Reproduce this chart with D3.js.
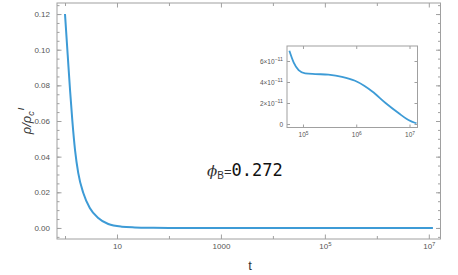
<!DOCTYPE html>
<html>
<head>
<meta charset="utf-8">
<script src="https://cdn.jsdelivr.net/npm/d3@7"></script>
<style>
  body { margin: 0; background: #fff; }
  svg { display: block; }
</style>
</head>
<body>
<div class="chart"></div>
<script>
// main curve
const tMain = [1, 1.127, 1.25, 1.38, 1.56, 1.8, 2.25, 3.0, 4.36, 6.8, 12.4, 22, 50, 100, 1000, 1e5, 1.2e7]
const rhoMain = [0.12, 0.097, 0.0774, 0.0606, 0.0437, 0.0308, 0.0196, 0.0112, 0.0056, 0.0022, 0.0007, 0.0003, 0.0001, 0.00003, 0.000001, 0, 0]

// inset (late times)
const tInset = [5.55e4, 6.67e4, 8.28e4, 1.1e5, 1.7e5, 3.0e5, 5.4e5, 9.5e5, 1.41e6, 2.0e6, 3.55e6, 6.3e6, 9.55e6, 1.26e7, 1.35e7]
const rhoInset = [6.98e-11, 5.88e-11, 5.14e-11, 4.83e-11, 4.76e-11, 4.70e-11, 4.50e-11, 4.12e-11, 3.65e-11, 3.10e-11, 2.0e-11, 1.02e-11, 0.38e-11, 0.12e-11, 0.08e-11]

const yTicks = [0, 0.02, 0.04, 0.06, 0.08, 0.10, 0.12]
const yMinor = d3.range(-0.005, 0.1251, 0.005)
const xLabeled = [10, 1000, 1e5, 1e7]
const xUnlabeled = [1, 100, 1e4, 1e6]
const insetYTicks = [0, 2e-11, 4e-11, 6e-11]
const insetXTicks = [1e5, 1e6, 1e7]

const width = 458
const height = 275
const blue = "#3d9bd6"
const frameColor = "#a0a0a0"
const labelColor = "#555"
const font = "Liberation Sans, Arial, sans-serif"

const svg = d3.select(".chart").append("svg")
  .attr("width", width)
  .attr("height", height)

// ---- main plot
const m = { left: 57, right: 440.5, top: 3, bottom: 239 }

const x = d3.scaleLog()
  .domain([Math.pow(10, -0.154), Math.pow(10, 7.225)])
  .range([m.left, m.right])

const y = d3.scaleLinear()
  .domain([-0.0062, 0.1262])
  .range([m.bottom, m.top])

function styleAxis(g) {
  g.select(".domain").remove()
  g.selectAll("line").attr("stroke", frameColor)
  g.selectAll("text")
    .attr("fill", labelColor)
    .style("font-family", font)
    .style("font-size", "8px")
}

function supLabel(base, exp) {
  return function(d) {
    const t = d3.select(this)
    t.text(null)
    t.append("tspan").text(base)
    t.append("tspan").attr("dy", "-0.45em").style("font-size", "0.75em").text(exp(d))
  }
}

// left axis
svg.append("g")
  .attr("transform", "translate(" + m.left + ",0)")
  .call(d3.axisLeft(y).tickValues(yMinor).tickSize(-2.5).tickFormat(""))
  .call(styleAxis)
svg.append("g")
  .attr("transform", "translate(" + m.left + ",0)")
  .call(d3.axisLeft(y).tickValues(yTicks).tickSize(-4.5).tickPadding(7)
    .tickFormat(d3.format(".2f")))
  .call(styleAxis)

// right axis
svg.append("g")
  .attr("transform", "translate(" + m.right + ",0)")
  .call(d3.axisRight(y).tickValues(yMinor).tickSize(-2.5).tickFormat(""))
  .call(styleAxis)
svg.append("g")
  .attr("transform", "translate(" + m.right + ",0)")
  .call(d3.axisRight(y).tickValues(yTicks).tickSize(-4.5).tickFormat(""))
  .call(styleAxis)

// bottom axis
svg.append("g")
  .attr("transform", "translate(0," + m.bottom + ")")
  .call(d3.axisBottom(x).tickValues(xUnlabeled).tickSize(-3).tickFormat(""))
  .call(styleAxis)
const bottomAx = svg.append("g")
  .attr("transform", "translate(0," + m.bottom + ")")
  .call(d3.axisBottom(x).tickValues(xLabeled).tickSize(-4.5).tickPadding(4)
    .tickFormat(d => d))
  .call(styleAxis)
bottomAx.selectAll("text")
  .filter(d => d >= 1e5)
  .each(supLabel("10", d => Math.round(Math.log10(d))))

// top axis
svg.append("g")
  .attr("transform", "translate(0," + m.top + ")")
  .call(d3.axisTop(x).tickValues(xUnlabeled).tickSize(-3).tickFormat(""))
  .call(styleAxis)
svg.append("g")
  .attr("transform", "translate(0," + m.top + ")")
  .call(d3.axisTop(x).tickValues(xLabeled).tickSize(-4.5).tickFormat(""))
  .call(styleAxis)

svg.append("rect")
  .attr("x", m.left)
  .attr("y", m.top)
  .attr("width", m.right - m.left)
  .attr("height", m.bottom - m.top)
  .attr("fill", "none")
  .attr("stroke", frameColor)
  .attr("stroke-width", 1)

const line = d3.line()
  .x(d => x(d[0]))
  .y(d => y(d[1]))
  .curve(d3.curveMonotoneX)

svg.append("path")
  .datum(d3.zip(tMain, rhoMain))
  .attr("d", line)
  .attr("fill", "none")
  .attr("stroke", blue)
  .attr("stroke-width", 2)

// axis titles
svg.append("text")
  .attr("x", 250)
  .attr("y", 270)
  .attr("text-anchor", "middle")
  .attr("fill", "#333")
  .style("font-family", font)
  .style("font-size", "13px")
  .text("t")

const yTitle = svg.append("text")
  .attr("transform", "translate(31,121) rotate(-90)")
  .attr("text-anchor", "middle")
  .attr("fill", "#333")
  .style("font-family", font)
  .style("font-size", "13px")
  .style("font-style", "italic")
yTitle.append("tspan").text("ρ/ρ")
yTitle.append("tspan").attr("dy", "3").style("font-size", "9px").text("c")
yTitle.append("tspan").attr("dx", "1").attr("dy", "-10").style("font-size", "9px").text("I")

// phi label
const phi = svg.append("text")
  .attr("x", 207)
  .attr("y", 176)
  .attr("fill", "#333")
phi.append("tspan")
  .style("font-family", "DejaVu Serif, serif")
  .style("font-style", "italic")
  .style("font-size", "15px")
  .text("ϕ")
phi.append("tspan")
  .attr("dy", "3")
  .style("font-family", font)
  .style("font-size", "10px")
  .text("B")
phi.append("tspan")
  .attr("dy", "-3")
  .style("font-family", font)
  .style("font-size", "13px")
  .text("=")
phi.append("tspan")
  .attr("fill", "#111")
  .style("font-family", "DejaVu Sans Mono, monospace")
  .style("font-size", "17px")
  .text("0.272")

// ---- inset
const n = { left: 287, right: 417.5, top: 46, bottom: 127.5 }

const xi = d3.scaleLog()
  .domain([Math.pow(10, 4.70), Math.pow(10, 7.15)])
  .range([n.left, n.right])

const yi = d3.scaleLinear()
  .domain([-0.333e-11, 7.43e-11])
  .range([n.bottom, n.top])

svg.append("rect")
  .attr("x", n.left)
  .attr("y", n.top)
  .attr("width", n.right - n.left)
  .attr("height", n.bottom - n.top)
  .attr("fill", "#fff")

function styleInset(g) {
  styleAxis(g)
  g.selectAll("text").style("font-size", "6.5px")
}

const insetLeft = svg.append("g")
  .attr("transform", "translate(" + n.left + ",0)")
  .call(d3.axisLeft(yi).tickValues(insetYTicks).tickSize(-3).tickPadding(4)
    .tickFormat(d => d))
  .call(styleInset)
insetLeft.selectAll("text").each(function(d) {
  const t = d3.select(this)
  t.text(null)
  if (d === 0) { t.text("0"); return }
  t.append("tspan").text(Math.round(d * 1e11) + "\u00d710")
  t.append("tspan").attr("dy", "-0.45em").style("font-size", "0.8em").text("\u221211")
})

svg.append("g")
  .attr("transform", "translate(" + n.right + ",0)")
  .call(d3.axisRight(yi).tickValues(insetYTicks).tickSize(-3).tickFormat(""))
  .call(styleInset)

const insetBottom = svg.append("g")
  .attr("transform", "translate(0," + n.bottom + ")")
  .call(d3.axisBottom(xi).tickValues(insetXTicks).tickSize(-3).tickPadding(5)
    .tickFormat(d => d))
  .call(styleInset)
insetBottom.selectAll("text")
  .each(supLabel("10", d => Math.round(Math.log10(d))))

svg.append("g")
  .attr("transform", "translate(0," + n.top + ")")
  .call(d3.axisTop(xi).tickValues(insetXTicks).tickSize(-3).tickFormat(""))
  .call(styleInset)

svg.append("rect")
  .attr("x", n.left)
  .attr("y", n.top)
  .attr("width", n.right - n.left)
  .attr("height", n.bottom - n.top)
  .attr("fill", "none")
  .attr("stroke", frameColor)
  .attr("stroke-width", 1)

const insetLine = d3.line()
  .x(d => xi(d[0]))
  .y(d => yi(d[1]))
  .curve(d3.curveMonotoneX)

svg.append("path")
  .datum(d3.zip(tInset, rhoInset))
  .attr("d", insetLine)
  .attr("fill", "none")
  .attr("stroke", blue)
  .attr("stroke-width", 1.8)
</script>
</body>
</html>
